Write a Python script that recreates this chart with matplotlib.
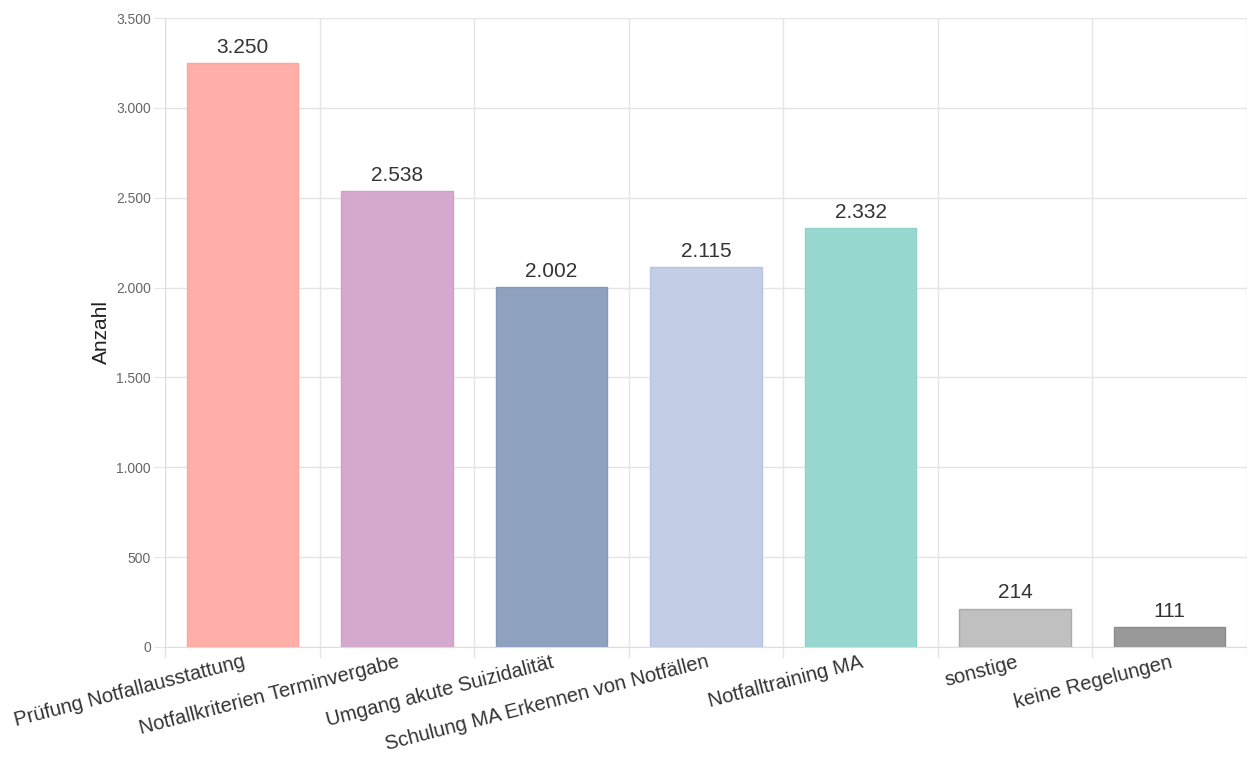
import matplotlib.pyplot as plt
from matplotlib.ticker import FuncFormatter

plt.rcParams['font.family'] = ['Liberation Sans', 'DejaVu Sans']

categories = ['Prüfung Notfallausstattung', 'Notfallkriterien Terminvergabe',
              'Umgang akute Suizidalität', 'Schulung MA Erkennen von Notfällen',
              'Notfalltraining MA', 'sonstige', 'keine Regelungen']
values = [3250, 2538, 2002, 2115, 2332, 214, 111]
colors = ['#ffaea8', '#d5a9ce', '#8ea2c0', '#c3cee6', '#99d8d0', '#c0c0c0', '#999999']
edges = ['#ffa49e', '#cfa0c8', '#8699b8', '#b8c4e2', '#8fd2c9', '#ababab', '#8c8c8c']
yticks = [0, 500, 1000, 1500, 2000, 2500, 3000, 3500]


def de_num(v):
    return f'{int(v):,}'.replace(',', '.')


fig = plt.figure(figsize=(12.47, 7.58), dpi=100)
ax = fig.add_axes([165 / 1247, 1 - 647 / 758, 1082 / 1247, 629 / 758])

x = list(range(len(categories)))
bars = ax.bar(x, values, width=0.72, color=colors, edgecolor=edges, linewidth=1, zorder=3)
for b, v in zip(bars, values):
    ax.text(b.get_x() + b.get_width() / 2, v + 35, de_num(v), ha='center', va='bottom',
            fontsize=15, color='#333333', zorder=4)

ax.set_xlim(-0.5, len(categories) - 0.5)
ax.set_ylim(0, 3500)
ax.set_yticks(yticks)
ax.yaxis.set_major_formatter(FuncFormatter(lambda v, p: de_num(v)))
ax.tick_params(axis='y', labelsize=10, labelcolor='#666666', length=8, color='#e5e5e5', pad=2)

# vertical gridlines at category boundaries
bounds = [i - 0.5 for i in range(len(categories) + 1)]
for bx in bounds:
    ax.axvline(bx, color='#e5e5e5', linewidth=1, zorder=1)
    ax.plot([bx, bx], [0, -0.016], transform=ax.get_xaxis_transform(), color='#e5e5e5',
            linewidth=1, clip_on=False)
ax.yaxis.grid(True, color='#e5e5e5', linewidth=1, zorder=1)

ax.set_xticks(x)
ax.set_xticklabels(categories, rotation=14.5, ha='right', va='top', rotation_mode='anchor',
                   fontsize=14.5, color='#333333')
ax.tick_params(axis='x', length=0, pad=4)

for s in ['top', 'right']:
    ax.spines[s].set_visible(False)
for s in ['left', 'bottom']:
    ax.spines[s].set_color('#dddddd')
    ax.spines[s].set_zorder(2)

ax.set_ylabel('Anzahl', fontsize=15, color='#222222', labelpad=4)

fig.savefig('out.png', dpi=100)
